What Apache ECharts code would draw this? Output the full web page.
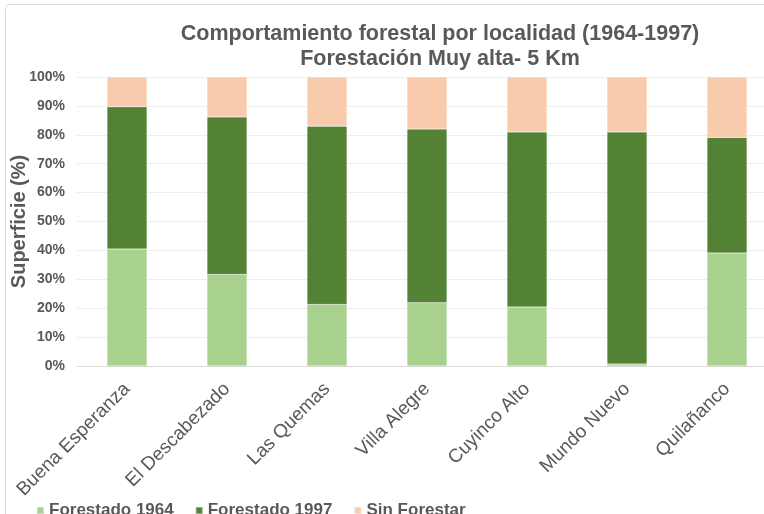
<!DOCTYPE html>
<html>
<head>
<meta charset="utf-8">
<script src="https://cdn.jsdelivr.net/npm/echarts@6/dist/echarts.min.js"></script>
<style>
  html, body { margin: 0; padding: 0; background: #fff; }
  #chart { width: 764px; height: 514px; }
</style>
</head>
<body>
<div id="chart"></div>
<script>
const localidades = ['Buena Esperanza', 'El Descabezado', 'Las Quemas', 'Villa Alegre', 'Cuyinco Alto', 'Mundo Nuevo', 'Quilañanco']
const forestado1964 = [40.5, 31.7, 21.3, 21.9, 20.4, 0.7, 39.1]
const forestado1997 = [49.2, 54.5, 61.7, 60.1, 60.6, 80.3, 40.0]
const sinForestar = [10.3, 13.8, 17.0, 18.0, 19.0, 19.0, 20.9]
const seriesNames = ['Forestado 1964', 'Forestado 1997', 'Sin Forestar']
const colors = ['#a9d18e', '#548235', '#f8cbad']

const font = '"Liberation Sans", Arial, sans-serif'
const gray = '#595959'

const chart = echarts.init(document.getElementById('chart'))

function barSeries(name, data, color) {
  return {
    name,
    type: 'bar',
    stack: 'total',
    data,
    barWidth: 40,
    itemStyle: { color, borderColor: 'rgba(255,255,255,0.4)', borderWidth: 0.5 },
    emphasis: { disabled: true },
  }
}

chart.setOption({
  animation: false,
  textStyle: { fontFamily: font },
  graphic: [{
    type: 'rect',
    left: 3, top: 2,
    shape: { width: 800, height: 560, r: 4 },
    style: { fill: 'none', stroke: '#d9d9d9', lineWidth: 1 },
    silent: true,
  }],
  title: {
    text: 'Comportamiento forestal por localidad (1964-1997)\nForestación Muy alta- 5 Km',
    left: 435,
    textAlign: 'center',
    top: 17,
    textStyle: { color: gray, fontSize: 21.5, fontWeight: 'bold', lineHeight: 25, fontFamily: font },
  },
  legend: {
    data: seriesNames,
    left: 31,
    top: 497,
    itemWidth: 7,
    itemHeight: 7,
    itemGap: 21,
    icon: 'rect',
    textStyle: { color: gray, fontSize: 17, fontWeight: 'bold', fontFamily: font },
  },
  grid: { left: 77, top: 77, width: 700, height: 289, outerBoundsMode: 'none' },
  xAxis: {
    type: 'category',
    data: localidades,
    axisLine: { lineStyle: { color: '#d9d9d9', width: 1 } },
    axisTick: { show: false },
    axisLabel: { interval: 0, rotate: 45, margin: 20, color: gray, fontSize: 19, fontFamily: font },
  },
  yAxis: {
    type: 'value',
    min: 0,
    max: 100,
    interval: 10,
    name: 'Superficie (%)',
    nameLocation: 'middle',
    nameGap: 48,
    nameMoveOverlap: false,
    nameTextStyle: { color: gray, fontSize: 20, fontWeight: 'bold', fontFamily: font },
    axisLine: { show: false },
    axisTick: { show: false },
    splitLine: { lineStyle: { color: '#eeeeee', width: 1 } },
    axisLabel: { formatter: '{value}%', color: gray, fontSize: 14, fontWeight: 'bold', margin: 12, fontFamily: font },
  },
  series: [
    barSeries(seriesNames[0], forestado1964, colors[0]),
    barSeries(seriesNames[1], forestado1997, colors[1]),
    barSeries(seriesNames[2], sinForestar, colors[2]),
  ],
})
</script>
</body>
</html>
